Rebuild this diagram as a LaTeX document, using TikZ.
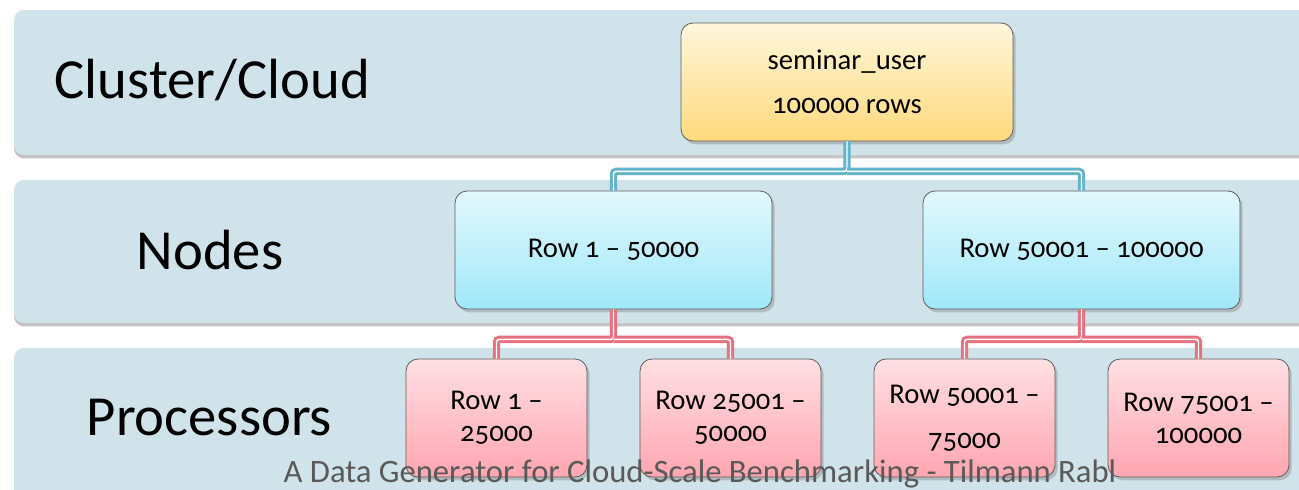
\documentclass[tikz,border=0pt]{standalone}
\usepackage{fontspec}
\setmainfont{Carlito}[Numbers=OldStyle]
\usepackage{tikz}
\usetikzlibrary{shadows,calc}

\definecolor{bandcol}{HTML}{D1E3EA}
\definecolor{boxedge}{HTML}{5C5C5C}
\definecolor{usertop}{HTML}{FFF6DC}
\definecolor{userbot}{HTML}{FFDA7C}
\definecolor{nodetop}{HTML}{E2F8FC}
\definecolor{nodebot}{HTML}{A0E8FA}
\definecolor{proctop}{HTML}{FFDFE4}
\definecolor{procbot}{HTML}{FFA6B1}
\definecolor{bluelinkcol}{HTML}{62B4CC}
\definecolor{pinklinkcol}{HTML}{E8707F}
\definecolor{footcol}{HTML}{595959}

\begin{document}
\begin{tikzpicture}[x=0.75pt,y=-0.75pt,
  band/.style={fill=bandcol,rounded corners=7.5pt,
    drop shadow={shadow xshift=0pt,shadow yshift=-2.5pt,opacity=.45}},
  layerlabel/.style={font=\fontsize{42.5}{48}\selectfont,anchor=west},
  tablebox/.style={draw=boxedge,line width=0.6pt,rounded corners=9pt,
    align=center,inner sep=0pt,minimum height=88.5pt,
    font=\fontsize{21.5}{24}\selectfont,
    drop shadow={shadow xshift=2pt,shadow yshift=-2.5pt,opacity=.4}},
  userbox/.style={tablebox,top color=usertop,bottom color=userbot,minimum width=249pt},
  nodebox/.style={tablebox,top color=nodetop,bottom color=nodebot,minimum width=237.75pt},
  procbox/.style={tablebox,top color=proctop,bottom color=procbot,minimum width=135.75pt},
  bluelink/.style={draw=bluelinkcol,line width=2.2pt,double=white,double distance=1.1pt},
  pinklink/.style={draw=pinklinkcol,line width=2.2pt,double=white,double distance=1.1pt}
]

\useasboundingbox (0,0) rectangle (1299,489);
\fill[white] (0,0) rectangle (1299,489);

%%% LAYER BANDS %%%
\begin{scope}
\clip (0,0) rectangle (1299,489);
\path[band] (14,10) rectangle (1320,155);
\path[band] (14,180) rectangle (1320,323);
\path[band] (14,348) rectangle (1320,520);
\end{scope}

%%% LAYER LABELS %%%
\node[layerlabel] (lcloud) at (50,80) {Cluster/Cloud};
\node[layerlabel] (lnodes) at (132,250) {Nodes};
\node[layerlabel] (lprocs) at (82,418) {Processors};

%%% TABLE %%%
\node[userbox] (user) at (847,82) {seminar\_user\\[9pt]100000 rows};

%%% NODES %%%
\node[nodebox] (nodeA) at (613.5,250) {Row 1 -- 50000};
\node[nodebox] (nodeB) at (1081.5,250) {Row 50001 -- 100000};

%%% PROCESSORS %%%
\node[procbox] (procA) at (496.5,418) {Row 1 --\\25000};
\node[procbox] (procB) at (730.5,418) {Row 25001 --\\50000};
\node[procbox] (procC) at (964.5,418) {Row 50001 --\\[10pt]75000};
\node[procbox] (procD) at (1198.5,418) {Row 75001 --\\100000};

%%% CONNECTORS %%%
\coordinate (jusr) at ($(user.south)+(0,30)$);
\coordinate (jnA) at ($(nodeA.south)+(0,30)$);
\coordinate (jnB) at ($(nodeB.south)+(0,30)$);

\draw[bluelink,rounded corners=2pt] (user.south) -- (jusr) -| (nodeA.north);
\draw[bluelink,rounded corners=2pt] (jusr) -| (nodeB.north);

\draw[pinklink,rounded corners=2pt] (nodeA.south) -- (jnA) -| (procA.north);
\draw[pinklink,rounded corners=2pt] (jnA) -| (procB.north);
\draw[pinklink,rounded corners=2pt] (nodeB.south) -- (jnB) -| (procC.north);
\draw[pinklink,rounded corners=2pt] (jnB) -| (procD.north);

%%% FOOTER %%%
\node[font=\fontsize{24.5}{28}\selectfont,text=footcol] (footer) at (700,474)
  {A Data Generator for Cloud-Scale Benchmarking - Tilmann Rabl};

\end{tikzpicture}
\end{document}
